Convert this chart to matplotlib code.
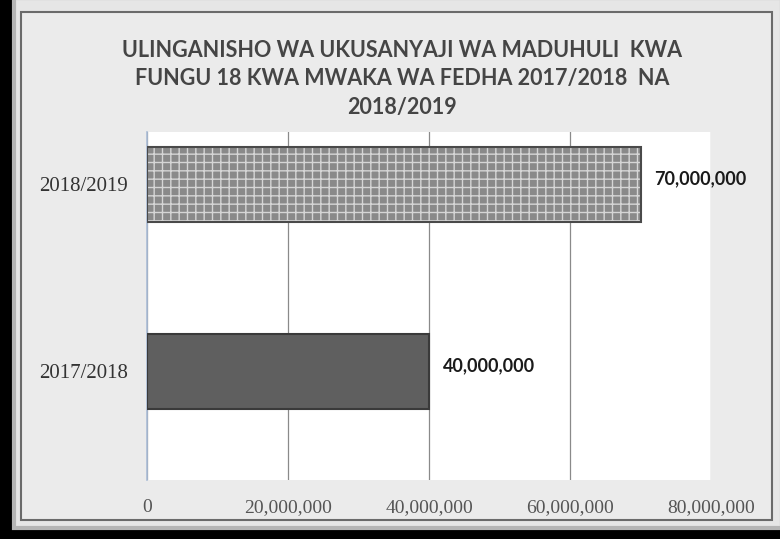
import matplotlib.pyplot as plt
from matplotlib.patches import Rectangle
import numpy as np

years = ["2017/2018", "2018/2019"]
collections = [40000000, 70000000]
value_labels = ["40,000,000", "70,000,000"]
x_ticks = [0, 20000000, 40000000, 60000000, 80000000]
x_ticklabels = ["0", "20,000,000", "40,000,000", "60,000,000", "80,000,000"]
title = ("ULINGANISHO WA UKUSANYAJI WA MADUHULI  KWA\n"
         "FUNGU 18 KWA MWAKA WA FEDHA 2017/2018  NA\n"
         "2018/2019")

W, H = 780, 539
fig = plt.figure(figsize=(W / 100, H / 100), dpi=100)
fig.patch.set_facecolor("black")


def fx(px):
    return px / W


def fy(py):
    return 1 - py / H


# outer gray panel with frame
panel = Rectangle((fx(14), fy(528)), fx(782) - fx(14), fy(-2) - fy(528),
                  transform=fig.transFigure, facecolor="#e6e6e6",
                  edgecolor="#b5b5b5", linewidth=3, zorder=-3)
fig.patches.append(panel)
inner = Rectangle((fx(21), fy(520)), fx(772) - fx(21), fy(12) - fy(520),
                  transform=fig.transFigure, facecolor="#ebebeb",
                  edgecolor="#6a6a6a", linewidth=1.5, zorder=-2)
fig.patches.append(inner)

ax = fig.add_axes([fx(147), fy(480), fx(711) - fx(147), fy(132) - fy(480)])
ax.set_facecolor("white")

ypos = np.arange(len(years))
bh = 0.40
# 2017/2018 solid dark bar
ax.barh(ypos[0], collections[0], height=bh, color="#5f5f5f",
        edgecolor="#3a3a3a", linewidth=1.5, zorder=3)
# 2018/2019 patterned bar
ax.barh(ypos[1], collections[1], height=bh, color="#8a8a8a",
        edgecolor="#d6d6d6", hatch="++", linewidth=0, zorder=3)
ax.barh(ypos[1], collections[1], height=bh, fill=False,
        edgecolor="#4a4a4a", linewidth=1.5, zorder=4)

for y, v, lab in zip(ypos, collections, value_labels):
    ax.text(v + 2000000, y + 0.03, lab, va="center", ha="left",
            fontsize=13, fontweight="bold", color="#1a1a1a",
            family="Lato")

ax.set_xlim(0, 80000000)
ax.set_ylim(-0.58, 1.28)
ax.set_xticks(x_ticks)
ax.set_xticklabels(x_ticklabels, family="Liberation Serif",
                   fontsize=14, color="#555555")
ax.set_yticks(ypos)
ax.set_yticklabels(years, family="Liberation Serif", fontsize=15,
                   color="#333333")
ax.tick_params(length=0)
ax.tick_params(axis="x", pad=14)
ax.tick_params(axis="y", pad=14)
ax.xaxis.grid(True, color="#8a8a8a", linewidth=0.9, zorder=0)
ax.set_axisbelow(True)
for s in ["top", "right", "bottom"]:
    ax.spines[s].set_visible(False)
ax.spines["left"].set_color("#a9bcd6")
ax.spines["left"].set_linewidth(1.2)

fig.text(fx(402), fy(79), title, ha="center", va="center",
         fontsize=15.5, fontweight="bold", color="#454545",
         family="Lato", linespacing=1.45)

fig.savefig("out.png", dpi=100, facecolor=fig.get_facecolor())
